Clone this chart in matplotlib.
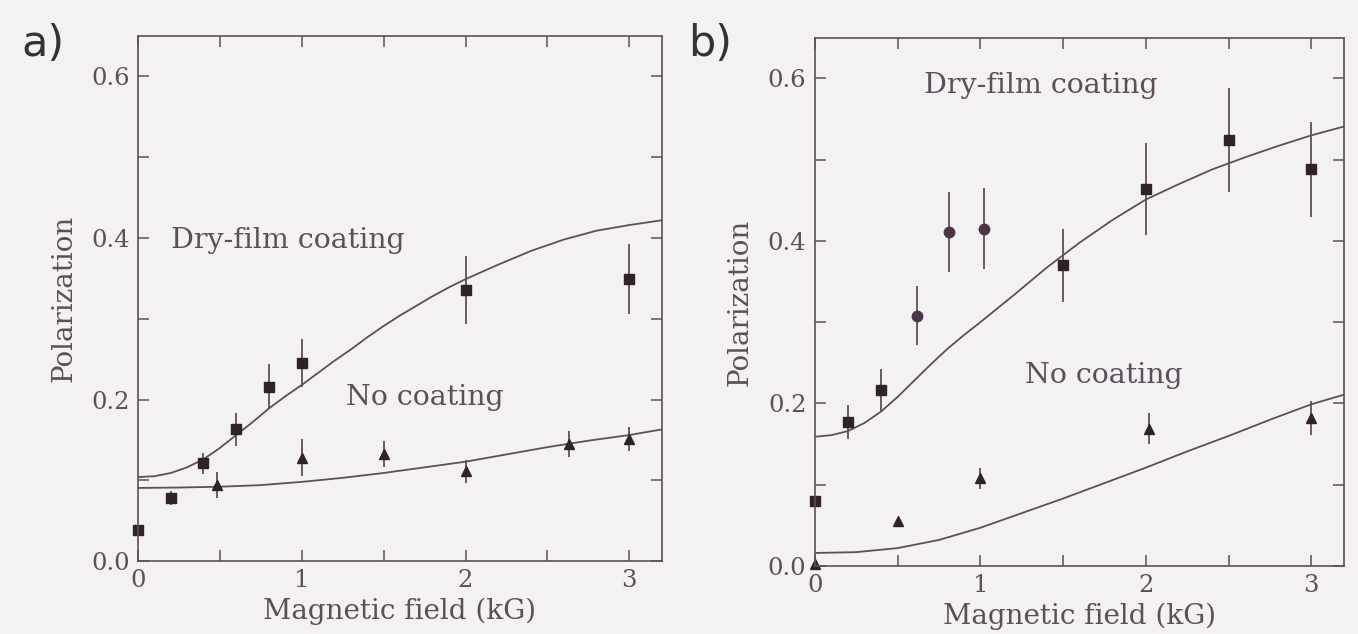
import matplotlib
matplotlib.use("Agg")
import matplotlib.pyplot as plt
from matplotlib.ticker import MultipleLocator

# ---- panel a data ----
a_dry_x = [0.0, 0.2, 0.4, 0.6, 0.8, 1.0, 2.0, 3.0]
a_dry_y = [0.039, 0.078, 0.121, 0.163, 0.216, 0.245, 0.336, 0.349]
a_dry_err = [0.0, 0.009, 0.013, 0.02, 0.028, 0.03, 0.042, 0.043]

a_no_x = [0.48, 1.0, 1.5, 2.0, 2.63, 3.0]
a_no_y = [0.094, 0.128, 0.132, 0.111, 0.145, 0.151]
a_no_err = [0.016, 0.023, 0.016, 0.014, 0.016, 0.015]

a_dry_fit_x = [0.0, 0.1, 0.2, 0.3, 0.4, 0.5, 0.6, 0.7, 0.8, 0.9, 1.0, 1.1, 1.2, 1.3,
               1.4, 1.5, 1.6, 1.7, 1.8, 1.9, 2.0, 2.2, 2.4, 2.6, 2.8, 3.0, 3.2]
a_dry_fit_y = [0.104, 0.105, 0.109, 0.116, 0.126, 0.140, 0.156, 0.172, 0.189, 0.204,
               0.218, 0.233, 0.248, 0.262, 0.277, 0.291, 0.304, 0.316, 0.328, 0.339,
               0.349, 0.367, 0.384, 0.398, 0.409, 0.416, 0.422]
a_no_fit_x = [0.0, 0.25, 0.5, 0.75, 1.0, 1.25, 1.5, 1.75, 2.0, 2.25, 2.5, 2.75, 3.0, 3.2]
a_no_fit_y = [0.0905, 0.091, 0.092, 0.094, 0.098, 0.103, 0.109, 0.116, 0.123, 0.132,
              0.141, 0.149, 0.156, 0.163]

# ---- panel b data ----
b_dry_x = [0.0, 0.2, 0.4, 1.5, 2.0, 2.5, 3.0]
b_dry_y = [0.080, 0.177, 0.217, 0.370, 0.464, 0.524, 0.488]
b_dry_err = [0.0, 0.021, 0.026, 0.045, 0.057, 0.064, 0.059]

b_circ_x = [0.62, 0.81, 1.02]
b_circ_y = [0.308, 0.411, 0.415]
b_circ_err = [0.036, 0.049, 0.05]

b_no_x = [0.0, 0.5, 1.0, 2.02, 3.0]
b_no_y = [0.003, 0.055, 0.108, 0.169, 0.182]
b_no_err = [0.0, 0.0, 0.013, 0.019, 0.021]

b_dry_fit_x = [0.0, 0.1, 0.2, 0.3, 0.4, 0.5, 0.6, 0.7, 0.8, 0.9, 1.0, 1.2, 1.4, 1.6,
               1.8, 2.0, 2.2, 2.4, 2.6, 2.8, 3.0, 3.2]
b_dry_fit_y = [0.159, 0.161, 0.166, 0.176, 0.190, 0.208, 0.228, 0.248, 0.267, 0.284,
               0.300, 0.333, 0.367, 0.398, 0.426, 0.451, 0.470, 0.488, 0.503, 0.517,
               0.530, 0.541]
b_no_fit_x = [0.0, 0.25, 0.5, 0.75, 1.0, 1.25, 1.5, 1.75, 2.0, 2.25, 2.5, 2.75, 3.0, 3.2]
b_no_fit_y = [0.016, 0.017, 0.022, 0.032, 0.047, 0.065, 0.083, 0.102, 0.121, 0.141,
              0.160, 0.180, 0.199, 0.211]

bg = '#f4f1f3'
ink = '#5e4e5a'
dark = '#2f2329'
serif = 'DejaVu Serif'

fig = plt.figure(figsize=(13.58, 6.34), dpi=100, facecolor=bg)
ax_a = fig.add_axes([0.1016, 0.1151, 0.3859, 0.828])
ax_b = fig.add_axes([0.600, 0.1073, 0.390, 0.833])


def style(ax):
    ax.set_facecolor(bg)
    ax.set_xlim(0, 3.2)
    ax.set_ylim(0, 0.65)
    ax.xaxis.set_minor_locator(MultipleLocator(0.5))
    ax.yaxis.set_minor_locator(MultipleLocator(0.1))
    ax.set_xticks([0, 1, 2, 3])
    ax.set_xticklabels(['0', '1', '2', '3'])
    ax.set_yticks([0, 0.2, 0.4, 0.6])
    ax.set_yticklabels(['0.0', '0.2', '0.4', '0.6'])
    ax.tick_params(which='both', direction='in', length=8, width=1.1,
                   color=ink, top=True, right=True, labelsize=17.5,
                   labelcolor=ink, pad=6)
    for lab in ax.get_xticklabels() + ax.get_yticklabels():
        lab.set_family(serif)
    for s in ax.spines.values():
        s.set_color(ink)
        s.set_linewidth(1.2)
    ax.set_xlabel('Magnetic field (kG)', family=serif, fontsize=20,
                  color=ink, labelpad=4)
    ax.set_ylabel('Polarization', family=serif, fontsize=20,
                  color=ink, labelpad=10)


style(ax_a)
style(ax_b)

# panel a
ax_a.plot(a_dry_fit_x, a_dry_fit_y, color=ink, lw=1.3)
ax_a.plot(a_no_fit_x, a_no_fit_y, color=ink, lw=1.3)
ax_a.errorbar(a_dry_x, a_dry_y, yerr=a_dry_err, fmt='s', ms=7, color=dark,
              ecolor=ink, elinewidth=1.3, capsize=0, clip_on=False)
ax_a.errorbar(a_no_x, a_no_y, yerr=a_no_err, fmt='^', ms=6.5, color=dark,
              ecolor=ink, elinewidth=1.3, capsize=0, clip_on=False)
ax_a.text(0.2, 0.397, 'Dry-film coating', family=serif, fontsize=20.5,
          color=ink, va='center', ha='left')
ax_a.text(1.27, 0.203, 'No coating', family=serif, fontsize=20.5,
          color=ink, va='center', ha='left')

# panel b
ax_b.plot(b_dry_fit_x, b_dry_fit_y, color=ink, lw=1.3)
ax_b.plot(b_no_fit_x, b_no_fit_y, color=ink, lw=1.3)
ax_b.errorbar(b_dry_x, b_dry_y, yerr=b_dry_err, fmt='s', ms=7, color=dark,
              ecolor=ink, elinewidth=1.3, capsize=0, clip_on=False)
ax_b.errorbar(b_circ_x, b_circ_y, yerr=b_circ_err, fmt='o', ms=7.5,
              color='#4d3447', ecolor=ink, elinewidth=1.3, capsize=0)
ax_b.errorbar(b_no_x, b_no_y, yerr=b_no_err, fmt='^', ms=6.5, color=dark,
              ecolor=ink, elinewidth=1.3, capsize=0, clip_on=False)
ax_b.text(0.66, 0.591, 'Dry-film coating', family=serif, fontsize=20.5,
          color=ink, va='center', ha='left')
ax_b.text(1.27, 0.235, 'No coating', family=serif, fontsize=20.5,
          color=ink, va='center', ha='left')

fig.text(0.016, 0.93, 'a)', family='DejaVu Sans', fontsize=31,
         color='#333333', va='center', ha='left')
fig.text(0.507, 0.93, 'b)', family='DejaVu Sans', fontsize=31,
         color='#333333', va='center', ha='left')

fig.savefig('out.png', dpi=100, facecolor=bg)
